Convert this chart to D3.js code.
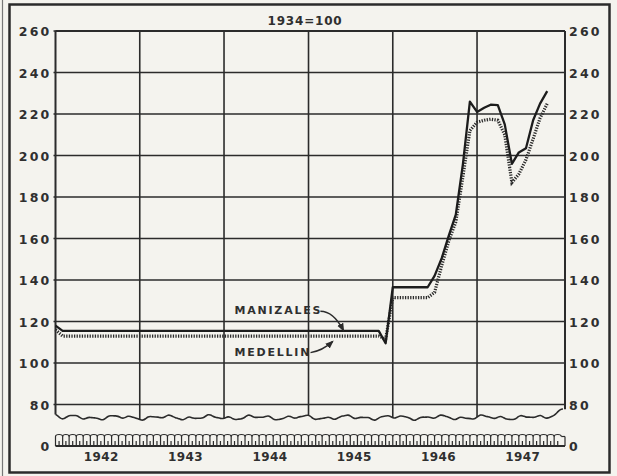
<!DOCTYPE html>
<html>
<head>
<title>Manizales and Medellin index 1942-1947</title>
<script src="https://d3js.org/d3.v7.min.js"></script>
<style>
  body {margin: 0; background-color: #f4f3ee;}
  svg {display: block;}
  text {font-family: "DejaVu Sans", sans-serif; font-weight: bold; fill: #2f2f2f;}
</style>
</head>
<body>
<svg width="617" height="476"></svg>
<script>
// monthly index, 1934 = 100, Jan 1942 .. Nov 1947
const months = d3.timeMonth.range(new Date(1942, 0, 1), new Date(1947, 11, 1));
const years = [1942, 1943, 1944, 1945, 1946, 1947];
const yTicks = [0, 80, 100, 120, 140, 160, 180, 200, 220, 240, 260];

const manizales = [
  118, 115.5, 115.5, 115.5, 115.5, 115.5, 115.5, 115.5, 115.5, 115.5, 115.5, 115.5,
  115.5, 115.5, 115.5, 115.5, 115.5, 115.5, 115.5, 115.5, 115.5, 115.5, 115.5, 115.5,
  115.5, 115.5, 115.5, 115.5, 115.5, 115.5, 115.5, 115.5, 115.5, 115.5, 115.5, 115.5,
  115.5, 115.5, 115.5, 115.5, 115.5, 115.5, 115.5, 115.5, 115.5, 115.5, 115.5, 109.5,
  136.5, 136.5, 136.5, 136.5, 136.5, 136.5, 142, 150.5, 161.5, 171.5, 196, 226,
  221, 223, 224.5, 224.3, 215, 196, 201.5, 203.5, 217, 225, 231
];
const medellin = [
  116, 113, 113, 113, 113, 113, 113, 113, 113, 113, 113, 113,
  113, 113, 113, 113, 113, 113, 113, 113, 113, 113, 113, 113,
  113, 113, 113, 113, 113, 113, 113, 113, 113, 113, 113, 113,
  113, 113, 113, 113, 113, 113, 113, 113, 113, 113, 113, 111.5,
  131.5, 131.5, 131.5, 131.5, 131.5, 131.5, 134, 147, 159, 168, 190, 212,
  216, 217, 217.5, 217, 210, 187, 191, 198, 208, 218, 225
];

const svg = d3.select("svg");
const plotLeft = 55.5, plotRight = 565, plotTop = 31;

const x = d3.scaleTime()
  .domain([new Date(1942, 0, 1), new Date(1948, 0, 1)])
  .range([plotLeft, 561.3]);
// broken axis: the "0" row sits one step below 80
const y = d3.scaleLinear().domain([60, 260]).range([446, plotTop]);
const yPos = v => v === 0 ? y(60) : y(v);

const ink = "#2b2b2b";

// frame
svg.append("rect").attr("x", 9.5).attr("y", 4.5).attr("width", 600).attr("height", 468)
  .attr("fill", "none").attr("stroke", ink).attr("stroke-width", 2.5);
svg.append("line").attr("x1", 2.5).attr("x2", 2.5).attr("y1", 0).attr("y2", 476)
  .attr("stroke", "#777").attr("stroke-width", 1.2);

// wavy break line
function waveY(px) {
  let w = 417.5 + 1.4 * Math.sin(px / 3.1) + 1.2 * Math.sin(px / 7.3 + 1.1) + 0.6 * Math.sin(px / 1.6);
  if (px > 545) w -= (px - 545) * 0.45;
  if (px < 60) w -= (60 - px) * 0.6;
  return w;
}
const wavePts = d3.range(plotLeft, plotRight + 0.1, 2.5).map(px => [px, waveY(px)]);
svg.append("path")
  .attr("d", d3.line().curve(d3.curveBasis)(wavePts))
  .attr("fill", "none").attr("stroke", ink).attr("stroke-width", 1.6);

// horizontal grid
svg.append("g").selectAll("line")
  .data(yTicks.filter(v => v >= 80))
  .join("line")
  .attr("x1", plotLeft - 2).attr("x2", plotRight)
  .attr("y1", d => y(d)).attr("y2", d => y(d))
  .attr("stroke", ink).attr("stroke-width", 1.6);

// vertical year grid
svg.append("g").selectAll("line")
  .data(years.slice(1))
  .join("line")
  .attr("x1", d => x(new Date(d, 0, 1))).attr("x2", d => x(new Date(d, 0, 1)))
  .attr("y1", plotTop).attr("y2", d => waveY(x(new Date(d, 0, 1))))
  .attr("stroke", ink).attr("stroke-width", 1.6);

// plot sides
svg.append("line").attr("x1", plotLeft).attr("x2", plotLeft).attr("y1", plotTop).attr("y2", waveY(plotLeft))
  .attr("stroke", ink).attr("stroke-width", 2);
svg.append("line").attr("x1", plotRight).attr("x2", plotRight).attr("y1", plotTop).attr("y2", waveY(plotRight))
  .attr("stroke", ink).attr("stroke-width", 2);
svg.append("line").attr("x1", plotLeft).attr("x2", plotRight).attr("y1", plotTop).attr("y2", plotTop)
  .attr("stroke", ink).attr("stroke-width", 2);

// monthly tick band at the bottom
const band = svg.append("g").attr("fill", "none").attr("stroke", ink).attr("stroke-width", 1.2);
const allMonths = d3.timeMonth.range(new Date(1942, 0, 1), new Date(1948, 0, 1));
const bBase = y(60), bTop = bBase - 11.5;
band.selectAll("path")
  .data(allMonths)
  .join("path")
  .attr("d", d => {
    const x0 = x(d), x1 = x(d3.timeMonth.offset(d, 1)), xm = (x0 + x1) / 2;
    return `M${x0},${bBase}V${bTop + 2}Q${x0},${bTop} ${xm},${bTop}Q${x1},${bTop} ${x1},${bTop + 2}`
      + `M${xm},${bBase}V${bBase - 5}`;
  });
band.append("line").attr("x1", plotLeft).attr("x2", plotRight).attr("y1", bBase).attr("y2", bBase)
  .attr("stroke-width", 1.8);
band.append("line").attr("x1", x.range()[1]).attr("x2", plotRight).attr("y1", bTop + 2).attr("y2", bTop + 2);
band.append("line").attr("x1", plotRight).attr("x2", plotRight).attr("y1", bTop + 2).attr("y2", bBase);

// y labels, both sides
svg.append("g").selectAll("text")
  .data(yTicks)
  .join("text")
  .attr("x", plotLeft - 4).attr("y", d => yPos(d) + 5)
  .attr("text-anchor", "end")
  .attr("font-size", 12.5).attr("letter-spacing", 2.2)
  .text(d => d);
svg.append("g").selectAll("text")
  .data(yTicks)
  .join("text")
  .attr("x", plotRight + 4).attr("y", d => yPos(d) + 5)
  .attr("font-size", 12.5).attr("letter-spacing", 2.2)
  .text(d => d);

// year labels
svg.append("g").selectAll("text")
  .data(years)
  .join("text")
  .attr("x", d => x(new Date(d, 6, 1)) + 4).attr("y", 461)
  .attr("text-anchor", "middle").attr("font-size", 12).attr("letter-spacing", 0.4)
  .text(d => d);

svg.append("text").attr("x", 305).attr("y", 25).attr("text-anchor", "middle")
  .attr("font-size", 12).attr("letter-spacing", 0.8).text("1934=100");

// series
const line = d3.line().x((d, i) => x(months[i])).y(d => y(d));
svg.append("path").datum(medellin).attr("d", line)
  .attr("fill", "none").attr("stroke", ink).attr("stroke-width", 3.2)
  .attr("stroke-dasharray", "1.3,1.3");
svg.append("path").datum(manizales).attr("d", line)
  .attr("fill", "none").attr("stroke", "#1c1c1c").attr("stroke-width", 2.3)
  .attr("stroke-linejoin", "round");

// labels with arrows
const defs = svg.append("defs");
defs.append("marker").attr("id", "head").attr("viewBox", "0 0 10 10")
  .attr("refX", 8).attr("refY", 5).attr("markerWidth", 6).attr("markerHeight", 6)
  .attr("orient", "auto")
  .append("path").attr("d", "M0,1L10,5L0,9Z").attr("fill", ink);

const lx = x(new Date(1944, 1, 15));
svg.append("text").attr("x", lx).attr("y", y(123.6)).attr("font-size", 11)
  .attr("letter-spacing", 1.8).text("MANIZALES");
svg.append("text").attr("x", lx).attr("y", y(103.4)).attr("font-size", 11)
  .attr("letter-spacing", 1.8).text("MEDELLIN");

const tipA = [x(new Date(1945, 5, 1)), y(115.8)];
svg.append("path")
  .attr("d", `M${tipA[0] - 23},${tipA[1] - 19}Q${tipA[0] - 10},${tipA[1] - 19} ${tipA[0]},${tipA[1]}`)
  .attr("fill", "none").attr("stroke", ink).attr("stroke-width", 1.4)
  .attr("marker-end", "url(#head)");
const tipB = [x(new Date(1945, 3, 15)), y(110.3)];
svg.append("path")
  .attr("d", `M${tipB[0] - 22},${tipB[1] + 11}Q${tipB[0] - 10},${tipB[1] + 9} ${tipB[0]},${tipB[1]}`)
  .attr("fill", "none").attr("stroke", ink).attr("stroke-width", 1.4)
  .attr("marker-end", "url(#head)");
</script>
</body>
</html>
